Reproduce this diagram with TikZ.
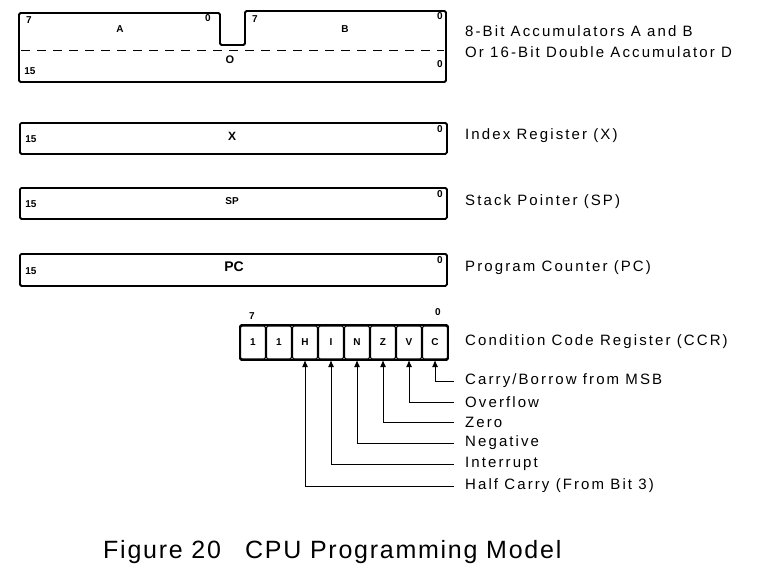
\documentclass[tikz,border=0pt]{standalone}
\usepackage{fontspec}
\setmainfont{Liberation Sans}
\newfontfamily\lbl[LetterSpace=14]{Liberation Sans}
\newfontfamily\capfont[LetterSpace=7]{Liberation Sans}
\usetikzlibrary{arrows.meta}
\begin{document}
\begin{tikzpicture}[x=1pt,y=-1pt,
  reg/.style={draw,line width=1.8pt,rounded corners=1.5pt},
  bitnum/.style={font=\fontsize{10}{10}\selectfont\bfseries,inner sep=0pt},
  regname/.style={font=\fontsize{10}{10}\selectfont\bfseries,inner sep=0pt},
  desc/.style={font=\lbl\fontsize{15}{15}\selectfont,anchor=west,inner sep=0pt},
  cell/.style={draw,line width=1.1pt,rounded corners=2pt,minimum width=25pt,minimum height=32pt,inner sep=0pt,font=\fontsize{10}{10}\selectfont\bfseries},
  flag/.style={line width=1pt,{Latex[length=7pt,width=6pt]}-}]
\useasboundingbox (0,0) rectangle (765,576);
% Accumulators
\draw[reg] (19,13) -- (220,13) -- (220,45) -- (245,45) -- (245,11) -- (446,11) -- (446,82) -- (19,82) -- cycle;
\draw[dashed,line width=1pt,dash pattern=on 9pt off 7pt] (21,50) -- (444,50);
\node[bitnum] (a7) at (29,20) {7};
\node[regname] (an) at (120,29) {A};
\node[bitnum] (a0) at (208,18) {0};
\node[bitnum] (b7) at (255,19) {7};
\node[regname] (bn) at (345,29) {B};
\node[bitnum] (b0) at (440,16) {0};
\node[bitnum] (d15) at (30,71) {15};
\node[regname,font=\fontsize{11}{11}\selectfont\bfseries] (dn) at (230,60) {O};
\node[bitnum] (d0) at (440,64) {0};
\node[desc] (accl1) at (465,31) {8-Bit Accumulators A and B};
\node[desc] (accl2) at (465,52) {Or 16-Bit Double Accumulator D};
% X
\node[reg,minimum width=427pt,minimum height=31pt,anchor=north west] (xr) at (19,122) {};
\node[bitnum] at (31,139) {15};
\node[regname,font=\fontsize{12}{12}\selectfont\bfseries] at (232,136) {X};
\node[bitnum] at (440,129) {0};
\node[desc] (xl) at (465,136) {Index Register (X)};
% SP
\node[reg,minimum width=427pt,minimum height=31pt,anchor=north west] (spr) at (19,187) {};
\node[bitnum] at (31,204) {15};
\node[regname] at (232,201) {SP};
\node[bitnum] at (440,194) {0};
\node[desc] (spl) at (465,202) {Stack Pointer (SP)};
% PC
\node[reg,minimum width=427pt,minimum height=32pt,anchor=north west] (pcr) at (19,253) {};
\node[bitnum] at (31,271) {15};
\node[regname,font=\fontsize{14}{14}\selectfont\bfseries] at (234,267) {PC};
\node[bitnum] at (440,260) {0};
\node[desc] (pcl) at (465,268) {Program Counter (PC)};
% CCR
\foreach \i/\t in {0/1,1/1,2/H,3/I,4/N,5/Z,6/V,7/C}
  \node[cell,minimum height=33pt] (c\i) at ({253+26*\i},342.5) {\t};
\draw[line width=1.8pt,rounded corners=1.5pt] (240,325) rectangle (448,360);
\node[bitnum] (c7n) at (252,316) {7};
\node[bitnum] (c0n) at (438,312) {0};
\node[desc] (ccrl) at (465,342) {Condition Code Register (CCR)};
\node[desc] (lc) at (465,381) {Carry/Borrow from MSB};
\node[desc] (lv) at (465,402) {Overflow};
\node[desc] (lz) at (465,422) {Zero};
\node[desc] (ln) at (465,443) {Negative};
\node[desc] (li) at (465,464) {Interrupt};
\node[desc] (lh) at (465,486) {Half Carry (From Bit 3)};
\foreach \i/\l in {7/lc,6/lv,5/lz,4/ln,3/li,2/lh}
  \draw[flag] (c\i.south |- 0,360) |- ([xshift=-11pt]\l.west);
% caption
\node[font=\capfont\fontsize{25}{25}\selectfont,anchor=base west,inner sep=0pt] (cap) at (103,558) {Figure 20\hspace{24pt}CPU Programming Model};
\end{tikzpicture}
\end{document}
